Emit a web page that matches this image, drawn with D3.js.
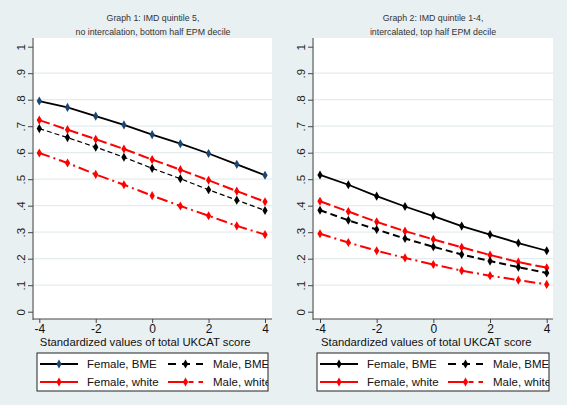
<!DOCTYPE html>
<html><head><meta charset="utf-8">
<script src="https://cdn.jsdelivr.net/npm/d3@7"></script>
<style>html,body{margin:0;padding:0;background:#e9f0f2;}svg{display:block;}</style>
</head><body>
<svg id="c" width="567" height="405"></svg>
<script>
const xValues = [-4, -3, -2, -1, 0, 1, 2, 3, 4];
const xTicks = [-4, -2, 0, 2, 4];
const yTicks = [0, 0.1, 0.2, 0.3, 0.4, 0.5, 0.6, 0.7, 0.8, 0.9, 1];
const yTickLabels = ["0", ".1", ".2", ".3", ".4", ".5", ".6", ".7", ".8", ".9", "1"];
const seriesNames = ["Female, BME", "Male, BME", "Female, white", "Male, white"];
const panelTitles = [
  ["Graph 1: IMD quintile 5,", "no intercalation, bottom half EPM decile"],
  ["Graph 2: IMD quintile 1-4,", "intercalated, top half EPM decile"]
];
const xTitle = "Standardized values of total UKCAT score";
// Graph 1 values
const g1FemaleBME = [0.795, 0.771, 0.738, 0.705, 0.668, 0.634, 0.597, 0.556, 0.515];
const g1MaleBME = [0.691, 0.657, 0.621, 0.583, 0.541, 0.502, 0.460, 0.421, 0.382];
const g1FemaleWhite = [0.723, 0.687, 0.651, 0.614, 0.574, 0.536, 0.496, 0.455, 0.415];
const g1MaleWhite = [0.599, 0.561, 0.518, 0.479, 0.438, 0.399, 0.362, 0.324, 0.291];
// Graph 2 values
const g2FemaleBME = [0.516, 0.479, 0.436, 0.397, 0.361, 0.323, 0.291, 0.259, 0.230];
const g2MaleBME = [0.383, 0.345, 0.310, 0.276, 0.245, 0.216, 0.191, 0.168, 0.146];
const g2FemaleWhite = [0.417, 0.378, 0.339, 0.304, 0.273, 0.243, 0.214, 0.187, 0.166];
const g2MaleWhite = [0.294, 0.261, 0.230, 0.203, 0.178, 0.155, 0.136, 0.119, 0.103];

const svg = d3.select("#c");
const font = "Arial, 'Liberation Sans', sans-serif";

const panels = [
  {left: 34, right: 272, xr: [39.3, 265], title: panelTitles[0], cx: 153,
   data: [g1FemaleBME, g1MaleBME, g1FemaleWhite, g1MaleWhite],
   fbmeMarker: "#1a476f", mbmeDash: "5,3", mbmeW: 1.2, legend: [37, 268]},
  {left: 314, right: 553, xr: [320, 546.7], title: panelTitles[1], cx: 433,
   data: [g2FemaleBME, g2MaleBME, g2FemaleWhite, g2MaleWhite],
   fbmeMarker: "#000", mbmeDash: "7,4", mbmeW: 2, legend: [317, 549]}
];

const plotTop = 38, plotBottom = 319;
const diamond = d3.symbol().type(d3.symbolDiamond).size(24);

panels.forEach((p, pi) => {
  const g = svg.append("g");
  const x = d3.scaleLinear().domain([-4, 4]).range(p.xr);
  const y = d3.scaleLinear().domain([0, 1]).range([311.7, 46.7]);

  g.append("rect").attr("x", p.left).attr("y", plotTop).attr("width", p.right - p.left).attr("height", plotBottom - plotTop).attr("fill", "#fff");

  g.selectAll(".grid").data(yTicks.filter(t => t > 0 && t < 1)).join("line")
    .attr("x1", p.left).attr("x2", p.right)
    .attr("y1", d => y(d)).attr("y2", d => y(d))
    .attr("stroke", "#e4ecee").attr("stroke-width", 1.2);

  p.title.forEach((t, i) => {
    g.append("text").attr("x", p.cx).attr("y", 21 + i * 14).attr("text-anchor", "middle")
      .attr("font-family", font).attr("font-size", 8.8).attr("fill", "#333").text(t);
  });

  const yAxis = d3.axisLeft(y).tickValues(yTicks).tickFormat((d, i) => yTickLabels[i]).tickSize(5).tickPadding(4);
  const ya = g.append("g").attr("transform", `translate(${p.left - 1},0)`).call(yAxis);
  ya.select(".domain").attr("d", `M0,${plotTop}V${plotBottom + 1}`).attr("stroke", "#444");
  ya.selectAll(".tick line").attr("stroke", "#444");
  ya.selectAll(".tick text").attr("font-family", font).attr("font-size", 11.5).attr("fill", "#222")
    .attr("x", 0).attr("y", 0).attr("dy", "0.35em").attr("text-anchor", "middle")
    .attr("transform", "translate(-12,0) rotate(-90)");

  const xAxis = d3.axisBottom(x).tickValues(xTicks).tickFormat(d3.format("d")).tickSize(4).tickPadding(1);
  const xa = g.append("g").attr("transform", `translate(0,${plotBottom})`).call(xAxis);
  xa.select(".domain").attr("d", `M${p.left - 1},0H${p.right}`).attr("stroke", "#444");
  xa.selectAll(".tick line").attr("stroke", "#444");
  xa.selectAll(".tick text").attr("font-family", font).attr("font-size", 12).attr("fill", "#111").text(d => d < 0 ? "-" + Math.abs(d) : d);

  g.append("text").attr("x", (p.xr[0] + p.xr[1]) / 2 - 7).attr("y", 346).attr("text-anchor", "middle")
    .attr("font-family", font).attr("font-size", 11.3).attr("fill", "#111").text(xTitle);

  const styles = [
    {color: "#000", dash: null, w: 1.8, marker: p.fbmeMarker},
    {color: "#000", dash: p.mbmeDash, w: p.mbmeW, marker: "#000"},
    {color: "#f00", dash: "11,4", w: 2, marker: "#f00"},
    {color: "#f00", dash: "11,4,2,4", w: 2, marker: "#f00"}
  ];
  const line = d3.line().x((d, i) => x(xValues[i])).y(d => y(d));
  const order = [2, 3, 1, 0];
  order.forEach(si => {
    const s = styles[si];
    g.append("path").datum(p.data[si]).attr("d", line).attr("fill", "none")
      .attr("stroke", s.color).attr("stroke-width", s.w).attr("stroke-dasharray", s.dash);
    g.selectAll(null).data(p.data[si]).join("path")
      .attr("d", diamond).attr("fill", s.marker)
      .attr("transform", (d, i) => `translate(${x(xValues[i])},${y(d)})`);
  });

  const [lx0, lx1] = p.legend;
  const ly0 = 353, ly1 = 391;
  const clipId = "lc" + pi;
  svg.append("clipPath").attr("id", clipId).append("rect").attr("x", lx0).attr("y", ly0).attr("width", lx1 - lx0).attr("height", ly1 - ly0);
  g.append("rect").attr("x", lx0).attr("y", ly0).attr("width", lx1 - lx0).attr("height", ly1 - ly0).attr("fill", "#fff");
  const lg = g.append("g").attr("clip-path", `url(#${clipId})`);
  const legItems = [
    {si: 0, col: 0, row: 0, legDash: null},
    {si: 1, col: 1, row: 0, legDash: "dash"},
    {si: 2, col: 0, row: 1, legDash: null},
    {si: 3, col: 1, row: 1, legDash: "half"}
  ];
  legItems.forEach(it => {
    const s = styles[it.si];
    const sx0 = lx0 + (it.col === 0 ? 3 : 131);
    const sx1 = sx0 + (it.col === 0 ? 38 : 35);
    const tx = lx0 + (it.col === 0 ? 50 : 176);
    const yy = ly0 + 11 + it.row * 18;
    if (it.legDash === "half") {
      lg.append("line").attr("x1", sx0).attr("x2", (sx0 + sx1) / 2).attr("y1", yy).attr("y2", yy).attr("stroke", s.color).attr("stroke-width", 2);
      lg.append("line").attr("x1", (sx0 + sx1) / 2 + 3).attr("x2", sx1).attr("y1", yy).attr("y2", yy).attr("stroke", s.color).attr("stroke-width", 2).attr("stroke-dasharray", "5,5");
    } else if (it.legDash === "dash") {
      lg.append("line").attr("x1", sx0).attr("x2", sx1).attr("y1", yy).attr("y2", yy).attr("stroke", s.color).attr("stroke-width", 2).attr("stroke-dasharray", "8,6,8,6");
    } else {
      lg.append("line").attr("x1", sx0).attr("x2", sx1).attr("y1", yy).attr("y2", yy).attr("stroke", s.color).attr("stroke-width", 2);
    }
    lg.append("path").attr("d", diamond).attr("fill", s.marker).attr("transform", `translate(${(sx0 + sx1) / 2},${yy})`);
    lg.append("text").attr("x", tx).attr("y", yy).attr("dy", "0.35em").attr("font-family", font).attr("font-size", 11.5).attr("fill", "#111").text(seriesNames[it.si]);
  });
  g.append("rect").attr("x", lx0).attr("y", ly0).attr("width", lx1 - lx0).attr("height", ly1 - ly0).attr("fill", "none").attr("stroke", "#222").attr("stroke-width", 1);
});
</script>
</body></html>
